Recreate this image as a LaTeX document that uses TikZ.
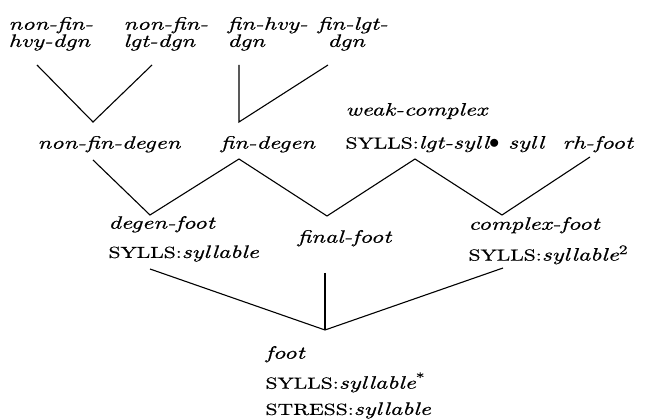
\documentclass[tikz,border=0pt]{standalone}
\usepackage{fontspec}
\setmainfont{lmroman10-regular.otf}[ItalicFont=lmroman10-italic.otf,FakeStretch=1.35,FakeBold=0.6]
\newcommand{\feat}[1]{{\fontsize{16}{16}\selectfont\upshape #1:}}
\newcommand{\sups}[1]{\raisebox{6.5pt}{\fontsize{13}{13}\selectfont\upshape #1}}
\tikzset{
	lbl/.style={anchor=north west,yshift=12.5pt,inner sep=0pt,align=left,font=\fontsize{18}{16}\selectfont\itshape},
}

\begin{document}
\begin{tikzpicture}[x=1pt,y=-1pt,line width=1.1pt]
	\useasboundingbox (0,0) rectangle (646,419);
	% leaf types
		\node[lbl] (nfhd) at (8,29) {non-fin-\\hvy-dgn};
		\node[lbl] (nfld) at (123,29) {non-fin-\\lgt-dgn};
		\node[lbl] (fhd) at (227,29) {fin-hvy-\\dgn};
		\node[lbl] (fld) at (317,29) {fin-lgt-\\\hspace*{10pt}dgn};
	% middle types
		\node[lbl] (nfdeg) at (37,148) {non-fin-degen};
		\node[lbl] (fdeg) at (220,148) {fin-degen};
		\node[lbl] (wcx) at (345,115) {weak-complex\\[17pt]\feat{SYLLS}lgt-syll{\fontsize{22}{22}\selectfont$\bullet$} syll};
		\node[lbl] (rhf) at (562,148) {rh-foot};
	% foot types
		\node[lbl] (dgf) at (108,228) {degen-foot\\[12pt]\feat{SYLLS}syllable};
		\node[lbl] (ff) at (297,242) {final-foot};
		\node[lbl] (cxf) at (468,229) {complex-foot\\[11pt]\feat{SYLLS}syllable\sups{2}};
	% top type
		\node[lbl] (foot) at (265,358) {foot\\[9pt]\feat{SYLLS}syllable\sups{*}\\[9pt]\feat{STRESS}syllable};
	% junctions
		\coordinate (nfhd-b) at (37,65);
		\coordinate (nfld-b) at (152,65);
		\coordinate (fhd-b) at (239,65);
		\coordinate (fld-b) at (328,65);
		\coordinate (nfdeg-t) at (93,122);
		\coordinate (nfdeg-b) at (93,160);
		\coordinate (fdeg-t) at (239,122);
		\coordinate (fdeg-b) at (239,159);
		\coordinate (wcx-b) at (415,159);
		\coordinate (rhf-b) at (590,157);
		\coordinate (dgf-t) at (150,215);
		\coordinate (dgf-b) at (150,269);
		\coordinate (ff-t) at (327,216);
		\coordinate (ff-b) at (325,273);
		\coordinate (cxf-t) at (502,215);
		\coordinate (cxf-b) at (503,268);
		\coordinate (foot-t) at (325,330);
	% links
		\draw (nfhd-b) -- (nfdeg-t) -- (nfld-b);
		\draw (fhd-b) -- (fdeg-t) -- (fld-b);
		\draw (nfdeg-b) -- (dgf-t) -- (fdeg-b) -- (ff-t) -- (wcx-b) -- (cxf-t) -- (rhf-b);
		\draw (dgf-b) -- (foot-t) -- (cxf-b);
		\draw (ff-b) -- (foot-t);
\end{tikzpicture}
\end{document}
